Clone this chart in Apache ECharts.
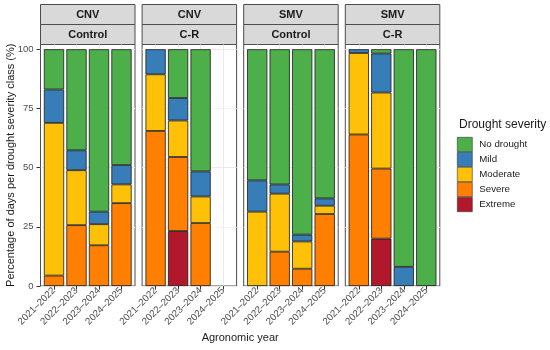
<!DOCTYPE html>
<html>
<head>
<meta charset="utf-8">
<script src="https://cdn.jsdelivr.net/npm/echarts@6/dist/echarts.min.js"></script>
<style>html,body{margin:0;padding:0;background:#fff}#c{width:550px;height:350px}</style>
</head>
<body>
<div id="c"></div>
<script>
// ---- data ----
const years = ['2021–2022', '2022–2023', '2023–2024', '2024–2025'];
const stripTop = ['CNV', 'CNV', 'SMV', 'SMV'];
const stripBottom = ['Control', 'C-R', 'Control', 'C-R'];
const classes = ['No drought', 'Mild', 'Moderate', 'Severe', 'Extreme'];
const classColors = ['#4daf4a', '#377eb8', '#ffc107', '#ff7f00', '#b2182b'];
const yTicks = [0, 25, 50, 75, 100];
// one row per panel (CNV Control, CNV C-R, SMV Control, SMV C-R), one value per year
const noDrought = [[17.0, 42.7, 68.6, 48.9], [null, 20.6, 51.6, null], [55.4, 57.1, 78.3, 63.0], [null, 1.8, 91.9, 100]];
const mild      = [[14.1, 8.4, 5.3, 8.2],    [10.6, 9.5, 10.6, null], [13.2, 3.9, 2.9, 3.1],   [1.6, 16.5, 8.1, null]];
const moderate  = [[64.5, 23.2, 8.9, 7.9],   [23.9, 15.4, 11.2, null], [31.4, 24.5, 11.5, 3.5], [34.4, 32.1, null, null]];
const severe    = [[4.4, 25.7, 17.2, 35.0],  [65.5, 31.3, 26.6, null], [null, 14.5, 7.3, 30.4], [64.0, 29.6, null, null]];
const extreme   = [[null, null, null, null], [null, 23.2, null, null], [null, null, null, null], [null, 20.0, null, null]];
const classData = [noDrought, mild, moderate, severe, extreme];

// ---- layout ----
const FONT = 'Liberation Sans, Arial, Helvetica, sans-serif';
const P0 = 40.5, PSTEP = 101.6, PW = 94.5, PTOP = 44.5, PH = 241.5;
const STRIP_H = 20;
const band = PW / 4.2;
const YMAX = 102;

const grids = [], xAxes = [], yAxes = [], series = [], graphics = [];
for (let p = 0; p < 4; p++) {
  const left = P0 + p * PSTEP;
  grids.push({left: left, top: PTOP, width: PW, height: PH, show: true,
    borderColor: '#4d4d4d', borderWidth: 1, backgroundColor: '#fff', containLabel: false});
  xAxes.push({type: 'value', gridIndex: p, min: 0, max: 1, show: false});
  yAxes.push({type: 'value', gridIndex: p, min: 0, max: YMAX, interval: 12.5,
    axisLine: {show: false},
    axisTick: {show: p === 0, customValues: yTicks, length: 4, lineStyle: {color: '#333', width: 1}},
    axisLabel: {show: p === 0, customValues: yTicks, fontSize: 9.5, color: '#4d4d4d', fontFamily: FONT, margin: 7},
    splitLine: {show: true, lineStyle: {color: ['#ebebeb', '#f4f4f4'], width: 1}}
  });
}
for (let p = 0; p < 4; p++) {
  const left = P0 + p * PSTEP;
  grids.push({left: left + band * 0.1, top: PTOP, width: band * 4, height: PH, show: false});
  xAxes.push({type: 'category', gridIndex: 4 + p, data: years,
    axisLine: {show: false},
    axisTick: {show: true, alignWithLabel: true, length: 3.5, lineStyle: {color: '#333'}},
    axisLabel: {rotate: 45, fontSize: 9.7, color: '#4d4d4d', fontFamily: FONT, margin: 3, interval: 0},
    splitLine: {show: true, alignWithLabel: true, lineStyle: {color: '#ebebeb', width: 1}},
    z: 0
  });
  yAxes.push({type: 'value', gridIndex: 4 + p, min: 0, max: YMAX, show: false, splitLine: {show: false}});
  for (let c = classes.length - 1; c >= 0; c--) {
    series.push({
      type: 'bar', name: classes[c], xAxisIndex: 4 + p, yAxisIndex: 4 + p,
      stack: 'panel' + p, data: classData[c][p], barWidth: '90%',
      itemStyle: {color: classColors[c], borderColor: '#1a1a1a', borderWidth: 0.8},
      emphasis: {disabled: true}, animation: false
    });
  }
  [stripTop[p], stripBottom[p]].forEach((txt, k) => {
    graphics.push({type: 'rect', shape: {x: left, y: PTOP - STRIP_H * (2 - k), width: PW, height: STRIP_H},
      style: {fill: '#d9d9d9', stroke: '#4d4d4d', lineWidth: 1}, silent: true});
    graphics.push({type: 'text', x: left + PW / 2, y: PTOP - STRIP_H * (2 - k) + STRIP_H / 2,
      style: {text: txt, fontSize: 11, fontWeight: 'bold', fill: '#1a1a1a', fontFamily: FONT,
        align: 'center', verticalAlign: 'middle'}, silent: true});
  });
}
graphics.push({type: 'text', x: 10.5, y: PTOP + PH / 2, rotation: Math.PI / 2,
  style: {text: 'Percentage of days per drought severity class (%)', fontSize: 11, fill: '#1a1a1a',
    fontFamily: FONT, align: 'center', verticalAlign: 'middle'}, silent: true});
graphics.push({type: 'text', x: P0 + (3 * PSTEP + PW) / 2, y: 338,
  style: {text: 'Agronomic year', fontSize: 11, fill: '#1a1a1a', fontFamily: FONT,
    align: 'center', verticalAlign: 'middle'}, silent: true});

const chart = echarts.init(document.getElementById('c'), null, {renderer: 'canvas'});
chart.setOption({
  animation: false,
  backgroundColor: '#fff',
  title: {text: 'Drought severity', left: 459, top: 119, padding: 0,
    textStyle: {fontSize: 12, fontWeight: 'normal', color: '#1a1a1a', fontFamily: FONT}},
  legend: {data: classes, orient: 'vertical', left: 457, top: 137, padding: 0, itemWidth: 15, itemHeight: 14.4,
    itemGap: 0, icon: 'rect', selectedMode: false,
    itemStyle: {borderColor: '#333', borderWidth: 0.6},
    textStyle: {fontSize: 9.7, color: '#1a1a1a', fontFamily: FONT, padding: [0, 0, 0, 2]}},
  grid: grids, xAxis: xAxes, yAxis: yAxes, series: series, graphic: graphics
});
</script>
</body>
</html>
